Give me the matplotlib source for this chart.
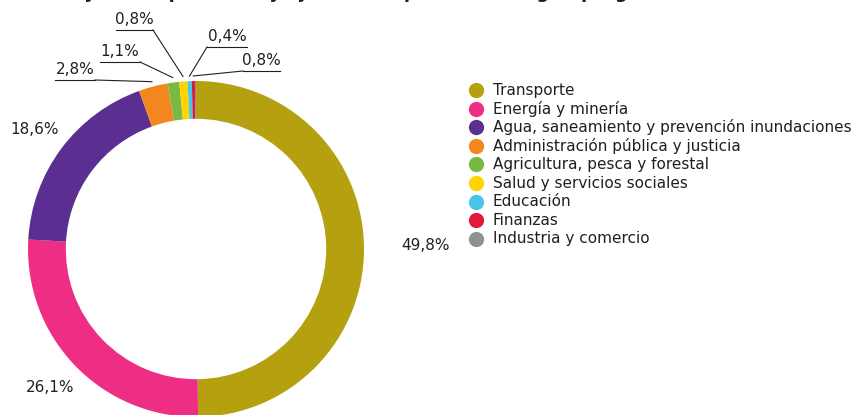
import matplotlib.pyplot as plt
import numpy as np

W, H = 858, 415

sectors = ["Transporte", "Energía y minería",
           "Agua, saneamiento y prevención inundaciones",
           "Administración pública y justicia",
           "Agricultura, pesca y forestal",
           "Salud y servicios sociales", "Educación", "Finanzas",
           "Industria y comercio"]
shares = [49.8, 26.1, 18.6, 2.8, 1.1, 0.8, 0.4, 0.3, 0.1]
pct_labels = ["49,8%", "26,1%", "18,6%", "2,8%", "1,1%", "0,8%", "0,4%", "0,8%", ""]
colors = ["#b5a010", "#ee2d84", "#5b2e91", "#f2861f", "#79b843",
          "#ffd400", "#48c5e8", "#e01a3c", "#8d9192"]

# center & radius of the ring in pixels
cx, cy, R = 196, 249, 168

def to_data(px, py):
    return (px - cx) / R, (cy - py) / R

plt.rcParams['font.family'] = ['DejaVu Sans']
fig = plt.figure(figsize=(W / 100, H / 100), dpi=100)
ax = fig.add_axes([(cx - R) / W, (H - cy - R) / H, 2 * R / W, 2 * R / H])
wedges, _ = ax.pie(shares, colors=colors, startangle=90, counterclock=False,
                   radius=1, wedgeprops=dict(width=0.225, linewidth=0))
ax.set_xlim(-1, 1)
ax.set_ylim(-1, 1)
ax.set_aspect('equal')
ax.axis('off')

txt_col = "#231f20"
# big slices: plain labels
big_pos = {0: (425, 246), 1: (50, 388), 2: (35, 130)}
for i, (px, py) in big_pos.items():
    x, y = to_data(px, py)
    ax.text(x, y, pct_labels[i], ha='center', va='center', fontsize=11,
            color=txt_col, clip_on=False)

# small slices: underlined labels with leaders (x0, x1, y, side of leader)
small_pos = {3: (55, 95, 80, 'r'), 4: (100, 140, 62, 'r'), 5: (116, 153, 30, 'r'),
             6: (207, 247, 47, 'l'), 7: (243, 280, 71, 'l')}
for i, (x0, x1, uy, side) in small_pos.items():
    w = wedges[i]
    ang = np.deg2rad((w.theta1 + w.theta2) / 2)
    tip = (1.03 * np.cos(ang), 1.03 * np.sin(ang))
    a0 = to_data(x0, uy)
    a1 = to_data(x1, uy)
    ax.plot([a0[0], a1[0]], [a0[1], a1[1]], color=txt_col, lw=0.8, clip_on=False)
    start = a1 if side == 'r' else a0
    ax.plot([start[0], tip[0]], [start[1], tip[1]], color=txt_col, lw=0.8, clip_on=False)
    ax.text((a0[0] + a1[0]) / 2, a0[1] + 0.015, pct_labels[i], ha='center', va='bottom',
            fontsize=11, color=txt_col, clip_on=False)

# title (mostly cropped at the top of the image, as in the source)
fig.text(365 / W, 1 + 2 / H, "Proyectos aprobados y ejecutados por sector según programa",
         ha='center', va='baseline', fontsize=13, fontweight='bold', color=txt_col)

# legend
lg = fig.add_axes([0, 0, 1, 1])
lg.set_xlim(0, W)
lg.set_ylim(H, 0)
lg.axis('off')
lg.patch.set_alpha(0)
for i, name in enumerate(sectors):
    y = 90 + i * 18.6
    lg.plot(476, y, 'o', ms=11, color=colors[i], mec='none')
    lg.text(493, y, name, va='center', ha='left', fontsize=11, color=txt_col)

plt.savefig("out.png", dpi=100)
